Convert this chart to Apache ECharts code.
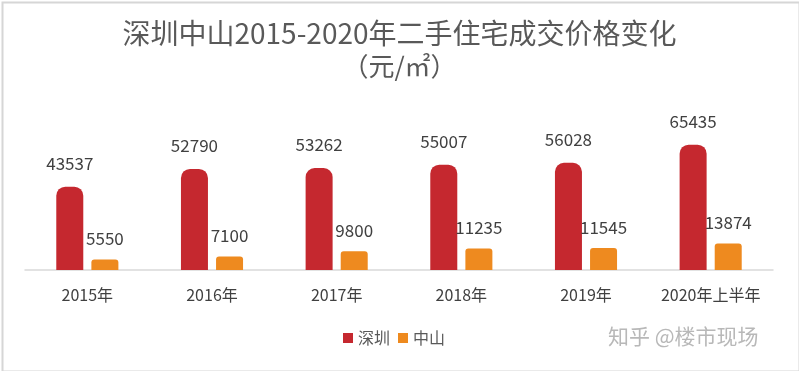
<!DOCTYPE html>
<html><head><meta charset="utf-8">
<script src="https://cdn.jsdelivr.net/npm/echarts@6/dist/echarts.min.js"></script>
<style>html,body{margin:0;padding:0;background:#fff}#c{width:799px;height:371px}</style>
</head><body><div id="c"></div>
<script>
const categories = ['2015年','2016年','2017年','2018年','2019年','2020年上半年'];
const shenzhen = [43537, 52790, 53262, 55007, 56028, 65435];
const zhongshan = [5550, 7100, 9800, 11235, 11545, 13874];
const seriesNames = ['深圳','中山'];

const font = '"Noto Sans CJK SC", "Noto Sans", sans-serif';
const chart = echarts.init(document.getElementById('c'));
chart.setOption({
  backgroundColor: '#fff',
  animation: false,
  title: {
    text: '深圳中山2015-2020年二手住宅成交价格变化',
    subtext: '（元/㎡）',
    left: 'center', top: 14, itemGap: 6,
    textStyle: {fontFamily: font, fontSize: 28, fontWeight: 'normal', color: '#595959'},
    subtextStyle: {fontFamily: font, fontSize: 26, color: '#595959'}
  },
  legend: {
    bottom: 20, left: 338,
    itemWidth: 10, itemHeight: 10, itemGap: 8,
    icon: 'rect',
    textStyle: {fontFamily: font, fontSize: 16, color: '#595959'},
    data: seriesNames
  },
  grid: {left: 25, right: 26, top: 136, bottom: 101},
  xAxis: {
    type: 'category', data: categories,
    axisLine: {lineStyle: {color: '#d9d9d9', width: 1.5}},
    axisTick: {show: false},
    axisLabel: {interval: 0, fontFamily: font, fontSize: 16, color: '#404040', margin: 17}
  },
  yAxis: {type: 'value', min: 0, max: 70000, show: false, splitLine: {show: false}},
  series: [
    {name: seriesNames[0], type: 'bar', data: shenzhen, barWidth: 27, barGap: '30%',
     itemStyle: {color: '#C5282F', borderRadius: [9, 9, 0, 0]},
     label: {show: true, position: 'top', distance: 15, fontFamily: font, fontSize: 17, color: '#404040'}},
    {name: seriesNames[1], type: 'bar', data: zhongshan, barWidth: 27,
     itemStyle: {color: '#EE8A1F', borderRadius: [3, 3, 0, 0]},
     label: {show: true, position: 'top', distance: 12, fontFamily: font, fontSize: 17, color: '#404040'}}
  ],
  graphic: [
    {type: 'rect', left: 0, top: 0, shape: {width: 797, height: 369},
     style: {fill: 'none', stroke: '#d6d6d6', lineWidth: 2}, silent: true},
    {type: 'text', left: 608, top: 326,
     style: {text: '知乎 @楼市现场', font: '21px "Noto Sans CJK SC", sans-serif', fill: '#b8b8b8'}}
  ]
});
</script></body></html>
